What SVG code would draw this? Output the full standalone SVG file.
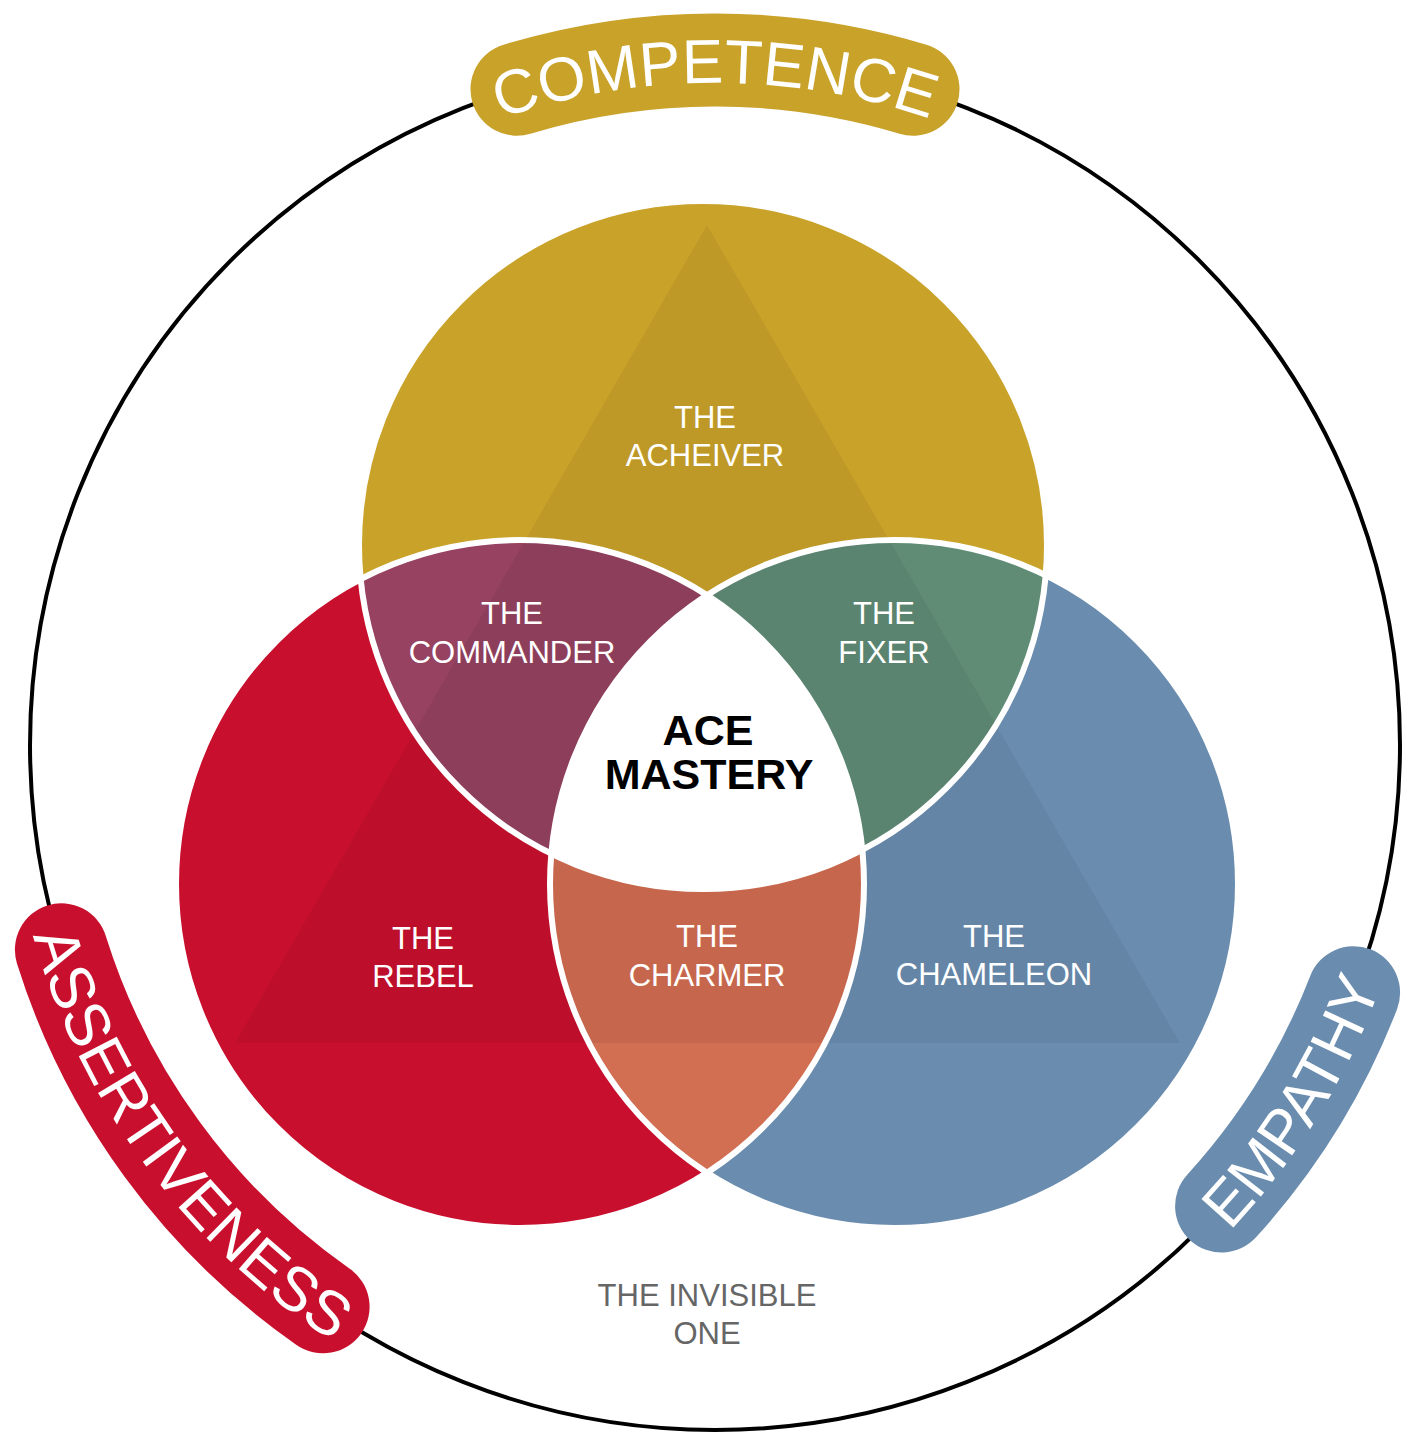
<svg xmlns="http://www.w3.org/2000/svg" width="1417" height="1440" viewBox="0 0 1417 1440">
<defs>
<style>
.lbl{font-family:"Liberation Sans",Arial,sans-serif;font-size:31px;fill:#ffffff;text-anchor:middle}
.pill{fill:none;stroke-width:93;stroke-linecap:round}
.ptxt{font-family:"Liberation Sans",Arial,sans-serif;font-size:62px;fill:#ffffff;text-anchor:middle}
.edge{fill:none;stroke:#ffffff;stroke-width:6}
.big{font-family:"Liberation Sans",Arial,sans-serif;font-size:43px;font-weight:bold;fill:#000000;text-anchor:middle}
</style>
<clipPath id="cY"><circle cx="703" cy="545" r="344"/></clipPath>
<clipPath id="cR"><circle cx="520" cy="884" r="344"/></clipPath>
<clipPath id="cB"><circle cx="894" cy="884" r="344"/></clipPath>
<path id="tpC" d="M384,171.7 A661,661 0 0 1 1046,171.7"/>
<path id="tpA" d="M7.2,763.5 A708,708 0 0 0 490.4,1416.4"/>
<path id="tpE" d="M1104.8,1336 A708,708 0 0 0 1418.3,826.4"/>
</defs>
<rect width="1417" height="1440" fill="#ffffff"/>
<g id="ring"><circle cx="715" cy="745" r="685" fill="none" stroke="#000000" stroke-width="4"/></g>
<g id="circles">
<g id="achiever"><circle cx="703" cy="545" r="344" fill="#C9A22A"/></g>
<g id="rebel"><circle cx="520" cy="884" r="344" fill="#C8102E"/></g>
<g id="chameleon"><circle cx="894" cy="884" r="344" fill="#6A8DAF"/></g>
<g id="commander"><circle cx="520" cy="884" r="344" fill="#964260" clip-path="url(#cY)"/></g>
<g id="fixer"><circle cx="894" cy="884" r="344" fill="#608C76" clip-path="url(#cY)"/></g>
<g id="charmer"><circle cx="894" cy="884" r="344" fill="#D26E52" clip-path="url(#cR)"/></g>
</g>
<g id="triangle"><polygon points="707,225 235,1043 1180,1043" fill="#000000" fill-opacity="0.055"/></g>
<g id="ace-mastery-area" clip-path="url(#cB)"><circle cx="703" cy="545" r="344" fill="#ffffff" clip-path="url(#cR)"/></g>
<g id="edges">
<circle class="edge" cx="703" cy="545" r="344"/>
<circle class="edge" cx="520" cy="884" r="344"/>
<circle class="edge" cx="894" cy="884" r="344"/>
</g>
<g id="labels">
<text class="lbl" x="705" y="428">THE</text>
<text class="lbl" x="705" y="466">ACHEIVER</text>
<text class="lbl" x="512" y="624">THE</text>
<text class="lbl" x="512" y="663">COMMANDER</text>
<text class="lbl" x="884" y="624">THE</text>
<text class="lbl" x="884" y="663">FIXER</text>
<text class="lbl" x="423" y="949">THE</text>
<text class="lbl" x="423" y="987">REBEL</text>
<text class="lbl" x="707" y="947">THE</text>
<text class="lbl" x="707" y="986">CHARMER</text>
<text class="lbl" x="994" y="947">THE</text>
<text class="lbl" x="994" y="985">CHAMELEON</text>
<text class="big" x="708" y="745">ACE</text>
<text class="big" x="709" y="789">MASTERY</text>
<text class="lbl" x="707" y="1306" style="fill:#666666">THE INVISIBLE</text>
<text class="lbl" x="707" y="1344" style="fill:#666666">ONE</text>
</g>
<g id="competence">
<path class="pill" stroke="#C9A22A" d="M517,89.2 A685,685 0 0 1 913,89.2"/>
<text class="ptxt"><textPath href="#tpC" startOffset="50%">COMPETENCE</textPath></text>
</g>
<g id="assertiveness">
<path class="pill" stroke="#C8102E" d="M61.4,949.8 A685,685 0 0 0 323.1,1306.8"/>
<text class="ptxt"><textPath href="#tpA" startOffset="50%">ASSERTIVENESS</textPath></text>
</g>
<g id="empathy">
<path class="pill" stroke="#6A8DAF" d="M1221.6,1206 A685,685 0 0 0 1353.6,992.7"/>
<text class="ptxt"><textPath href="#tpE" startOffset="50%">EMPATHY</textPath></text>
</g>
</svg>
